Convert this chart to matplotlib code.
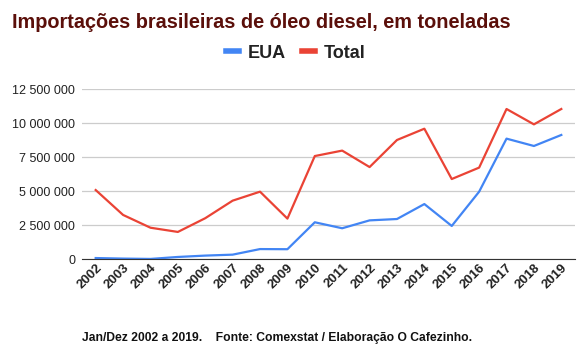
import numpy as np
import matplotlib.pyplot as plt
from matplotlib.ticker import FuncFormatter

plt.rcParams['font.family'] = ['Liberation Sans', 'DejaVu Sans']

# Data (tonnes)
anos = [str(a) for a in range(2002, 2020)]
eua = [70000, 30000, 5000, 150000, 250000, 320000, 730000, 720000, 2700000,
       2260000, 2840000, 2940000, 4040000, 2430000, 4950000, 8850000,
       8310000, 9120000]
total = [5070000, 3240000, 2300000, 1990000, 3000000, 4290000, 4950000,
         2970000, 7570000, 7970000, 6760000, 8750000, 9580000, 5880000,
         6720000, 11030000, 9900000, 11030000]
yticks = [0, 2500000, 5000000, 7500000, 10000000, 12500000]

fig = plt.figure(figsize=(5.86, 3.51), dpi=100)
ax = fig.add_axes([82/586, (351-259)/351, 493/586, 170/351])

x = np.arange(len(anos))
ax.plot(x, eua, color='#4285F4', lw=1.6, label='EUA')
ax.plot(x, total, color='#EA4335', lw=1.6, label='Total')

ax.set_xlim(-0.5, len(anos) - 0.5)
ax.set_ylim(0, 12500000)
ax.set_yticks(yticks)
ax.yaxis.set_major_formatter(FuncFormatter(lambda v, p: f"{int(v):,}".replace(',', ' ')))
ax.grid(axis='y', color='#cccccc', lw=0.9)
ax.set_axisbelow(True)
for s in ['top', 'right', 'left']:
    ax.spines[s].set_visible(False)
ax.spines['bottom'].set_color('#333333')
ax.tick_params(axis='y', length=0, labelsize=9, labelcolor='#222222', pad=5)
ax.tick_params(axis='x', length=0, pad=2)
ax.set_xticks(x)
ax.set_xticklabels(anos, rotation=45, ha='right', rotation_mode='anchor',
                   fontsize=9.5, fontweight='bold', color='#222222')

fig.text(12/586, 1 - 22/351, 'Importações brasileiras de óleo diesel, em toneladas',
         fontsize=14.3, fontweight='bold', color='#5b0f0a', va='center')

leg = fig.legend(loc='center', bbox_to_anchor=(296/586, 1 - 53/351), ncol=2,
                 frameon=False, prop={'size': 13, 'weight': 'bold'},
                 handlelength=0.7, handletextpad=0.5, columnspacing=0.9)
for h in leg.legend_handles:
    h.set_linewidth(4)
for t in leg.get_texts():
    t.set_color('#222222')

fig.text(82/586, 1 - 338/351,
         'Jan/Dez 2002 a 2019.    Fonte: Comexstat / Elaboração O Cafezinho.',
         fontsize=8.7, fontweight='bold', color='#111111', va='center')

fig.savefig('out.png', dpi=100)
